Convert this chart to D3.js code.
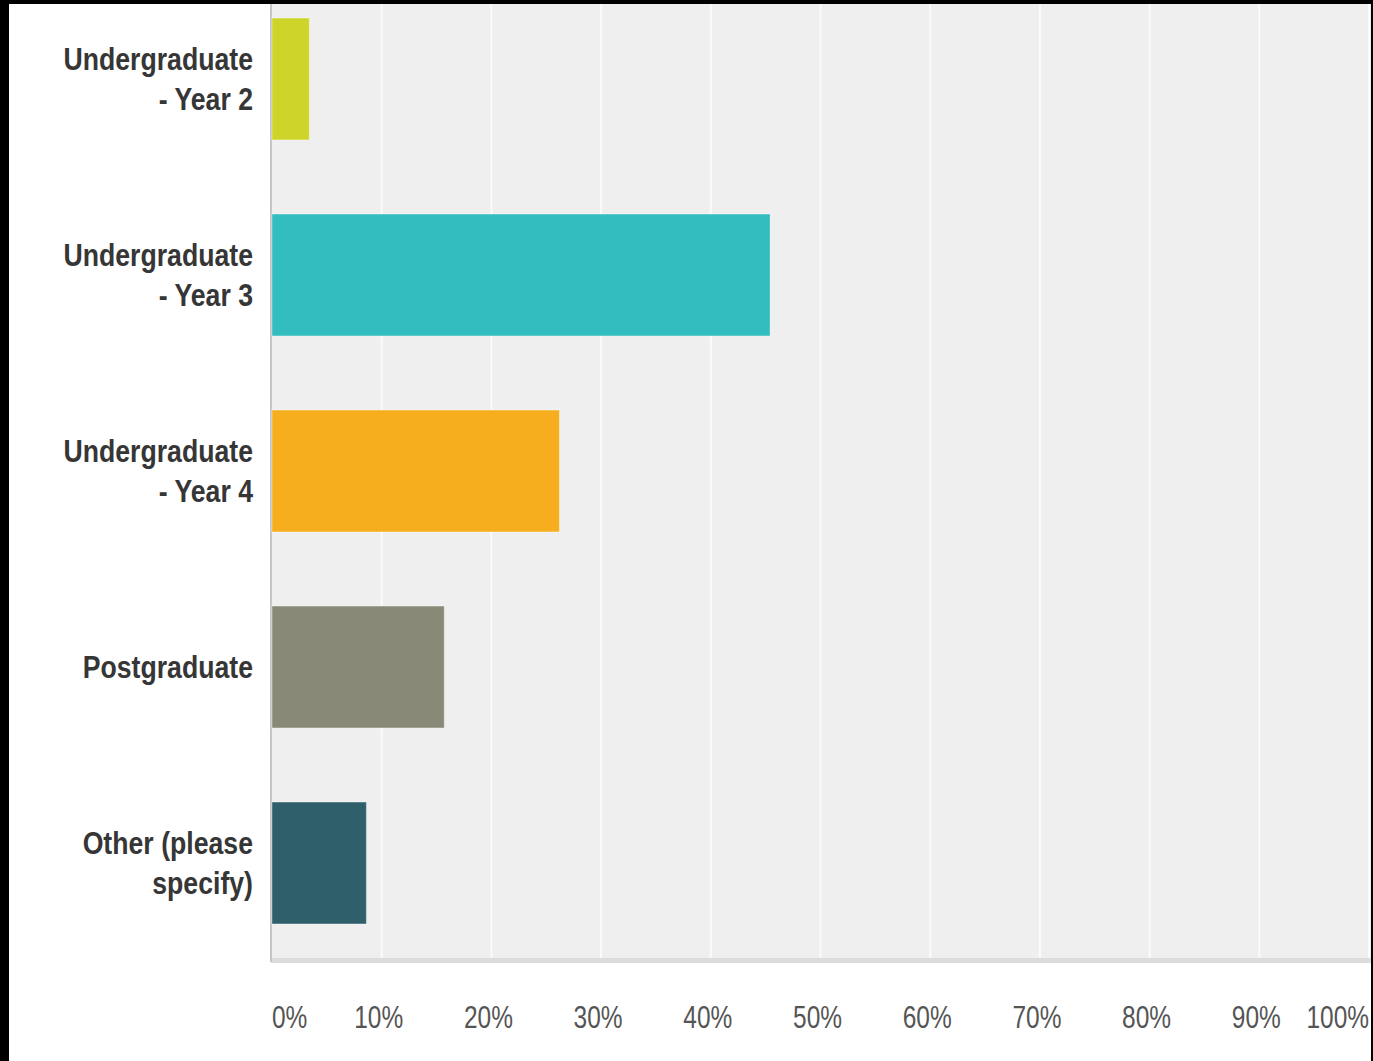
<!DOCTYPE html>
<html>
<head>
<meta charset="utf-8">
<script src="https://cdn.jsdelivr.net/npm/d3@7"></script>
<style>
  html, body { margin: 0; padding: 0; background: #ffffff; }
  svg { display: block; }
</style>
</head>
<body>
<script>
// Survey responses: share of respondents by year of study
const categories = [
  ["Undergraduate", "- Year 2"],
  ["Undergraduate", "- Year 3"],
  ["Undergraduate", "- Year 4"],
  ["Postgraduate"],
  ["Other (please", "specify)"]
];
const percentages = [3.4, 45.4, 26.2, 15.7, 8.6];
const barColors = ["#cfd42b", "#34bdbf", "#f6ae1f", "#888a77", "#2e5f6b"];
const tickValues = [0, 10, 20, 30, 40, 50, 60, 70, 80, 90, 100];
const tickLabels = ["0%", "10%", "20%", "30%", "40%", "50%", "60%", "70%", "80%", "90%", "100%"];

const W = 1373, H = 1061;
const plot = { left: 271, right: 1371, top: 4, bottom: 958 };

const svg = d3.select("body").append("svg")
  .attr("width", W).attr("height", H);

const x = d3.scaleLinear().domain([0, 100]).range([272, 1369]);
const y = d3.scaleBand()
  .domain(d3.range(categories.length))
  .range([-19, 961])
  .paddingInner(0.378)
  .paddingOuter(0.189);

// plot background
svg.append("rect")
  .attr("x", plot.left).attr("y", plot.top)
  .attr("width", plot.right - plot.left)
  .attr("height", plot.bottom - plot.top)
  .attr("fill", "#efefef");

// vertical gridlines
svg.append("g").selectAll("line")
  .data(tickValues.slice(1))
  .join("line")
  .attr("x1", d => x(d)).attr("x2", d => x(d))
  .attr("y1", plot.top).attr("y2", plot.bottom)
  .attr("stroke", "#fbfbfb")
  .attr("stroke-width", 2);

// bottom axis band
svg.append("rect")
  .attr("x", plot.left).attr("y", plot.bottom)
  .attr("width", plot.right - plot.left).attr("height", 5)
  .attr("fill", "#dcdcdc");

// left axis line
svg.append("line")
  .attr("x1", plot.left).attr("x2", plot.left)
  .attr("y1", plot.top).attr("y2", plot.bottom + 4)
  .attr("stroke", "#c6c6c6")
  .attr("stroke-width", 2);

// bars
svg.append("g").selectAll("rect")
  .data(percentages)
  .join("rect")
  .attr("x", x(0))
  .attr("y", (d, i) => y(i))
  .attr("width", d => x(d) - x(0))
  .attr("height", y.bandwidth())
  .attr("fill", (d, i) => barColors[i])
  .attr("stroke", "rgba(255,255,255,0.35)")
  .attr("stroke-width", 1);

// category labels (condensed bold, right-aligned)
const labelG = svg.append("g");
categories.forEach((lines, i) => {
  const cy = y(i) + y.bandwidth() / 2;
  const lineH = 40;
  const t = labelG.append("text")
    .attr("transform", `translate(253,${cy}) scale(0.86,1)`)
    .attr("text-anchor", "end")
    .attr("font-family", "'Liberation Sans', Arial, sans-serif")
    .attr("font-weight", "bold")
    .attr("font-size", 31)
    .attr("fill", "#363636");
  lines.forEach((ln, j) => {
    const off = (j - (lines.length - 1) / 2) * lineH + 11;
    t.append("tspan").attr("x", 0).attr("y", off).text(ln);
  });
});

// x tick labels
const tickG = svg.append("g");
tickValues.forEach((v, i) => {
  let tx = x(v) - 3, anchor = "middle";
  if (i === 0) { tx = x(v); anchor = "start"; }
  if (i === tickValues.length - 1) { tx = plot.right - 2; anchor = "end"; }
  tickG.append("text")
    .attr("transform", `translate(${tx},1028) scale(0.765,1)`)
    .attr("text-anchor", anchor)
    .attr("font-family", "'Liberation Sans', Arial, sans-serif")
    .attr("font-size", 32)
    .attr("fill", "#555555")
    .text(tickLabels[i]);
});

// frame edges
svg.append("rect").attr("x", 0).attr("y", 0).attr("width", 9).attr("height", H).attr("fill", "#000");
svg.append("rect").attr("x", 0).attr("y", 0).attr("width", W).attr("height", 4).attr("fill", "#000");
svg.append("rect").attr("x", 1371).attr("y", 0).attr("width", 2).attr("height", H).attr("fill", "#000");
</script>
</body>
</html>
